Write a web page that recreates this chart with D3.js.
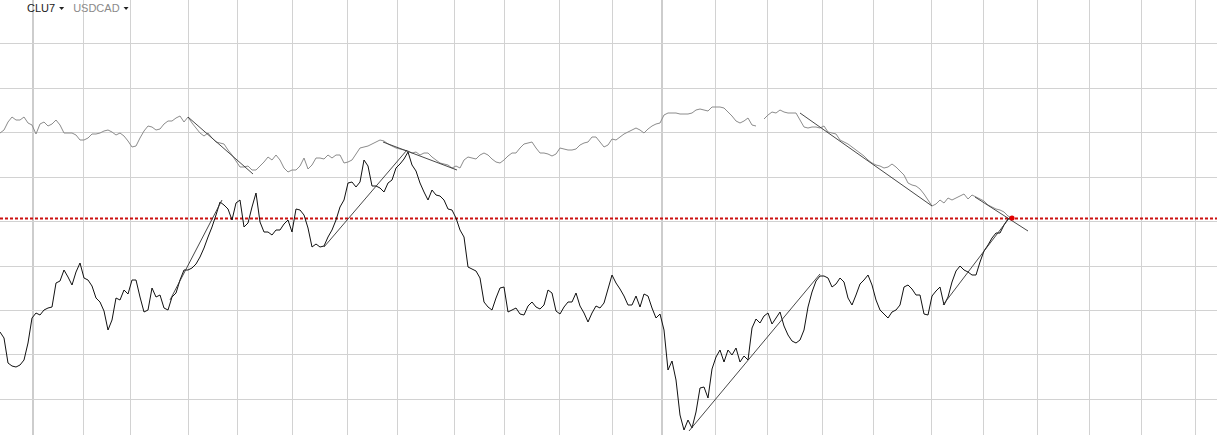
<!DOCTYPE html>
<html><head><meta charset="utf-8">
<script src="https://cdn.jsdelivr.net/npm/d3@7"></script>
<style>html,body{margin:0;padding:0;background:#fff;overflow:hidden}</style>
</head><body><svg id="chart" width="1217" height="435"></svg>
<script>
// ---- data ----
const seriesNames = ["CLU7", "USDCAD"];
// CLU7 closes, one value per bar
const clu7 = [
45.4,45.1,43.85,43.7,43.65,43.75,44,44.85,46.1,46.35,
46.25,46.5,46.6,46.65,47.85,47.95,48.5,48.15,47.75,48.4,
48.85,48.1,48,47.7,47.1,46.9,46.45,45.5,46,47.1,
47,47.5,47.3,48,48,47.15,46.4,46.5,47.6,47.15,
47.25,46.6,46.5,47.15,47.35,48,48.5,48.5,48.6,48.8,
49.15,49.6,50.15,50.65,51.25,51.9,51.75,51.55,51,51.85,
52,50.65,50.85,51.65,52.35,50.9,50.4,50.4,50.25,50.5,
50.5,50.8,51,50.4,51.55,51.5,51.25,50.6,49.65,49.8,
49.65,49.7,50.15,50.5,51,51.65,52,52.85,52.9,52.65,
52.9,54,53.7,52.7,52.7,52.6,52.4,52.85,53,53.6,
53.8,54.05,54.4,53.75,53.45,52.85,52.4,52,52.5,52.25,
52.2,52,51.55,51.5,51.1,50.5,50.15,48.65,48.55,48.45,
48.1,46.9,46.65,46.5,47.1,47.6,47.65,46.4,46.5,46.6,
46.3,46.25,46.7,46.9,46.65,46.55,46.75,47.5,47.35,46.45,
46.3,46.65,46.9,46.9,47.35,46.7,46.35,45.9,46.35,46.7,
46.6,46.85,47.55,48.25,47.85,47.55,47.2,46.75,46.75,47.2,
46.65,47.3,47.2,46.6,46.1,46.3,45.5,43.5,43.95,43,
41.25,40.5,41,40.6,41.4,42.6,42.65,42.1,43.55,44.15,
44.5,43.9,44.5,44.25,44.6,43.9,44.2,44,45.6,46.05,
45.85,46.2,46.35,45.8,46.1,46.4,45.7,45.25,44.95,44.85,
45,45.5,46.65,47.4,47.95,48.2,48.2,48.1,47.65,47.8,
48.1,47.9,47.1,46.75,47.25,47.8,48,48.25,47.75,47,
46.5,46.3,46.1,46.4,46.5,46.75,47.65,47.75,47.55,47.25,
47.25,46.3,46.25,47.2,47.45,47.65,46.75,47.15,47.9,48.45,
48.7,48.5,48.4,48.25,48.25,48.9,49.45,49.75,50.1,50.35,
50.35,50.75,51.05,51.1
];
// USDCAD closes (null = missing bar)
const usdcad = [
1.3335,1.335,1.339,1.3415,1.34,1.34,1.3415,1.3385,1.3375,1.333,
1.338,1.339,1.337,1.338,1.34,1.3375,1.3335,1.3335,1.3335,1.3325,
1.33,1.33,1.331,1.333,1.333,1.3335,1.3345,1.335,1.334,1.3325,
1.3335,1.332,1.3295,1.3265,1.327,1.331,1.3345,1.337,1.3365,1.335,
1.3355,1.338,1.3395,1.3395,1.341,1.342,1.339,1.3415,1.3385,1.336,
1.3335,1.332,1.3335,1.331,1.329,1.3285,1.328,1.325,1.3225,1.3195,
1.3165,1.3165,1.317,1.315,1.315,1.317,1.319,1.3215,1.32,1.3225,
1.32,1.316,1.314,1.315,1.315,1.317,1.321,1.3155,1.3175,1.321,
1.321,1.3205,1.3225,1.321,1.3225,1.3225,1.3185,1.319,1.32,1.323,
1.326,1.3265,1.327,1.328,1.329,1.33,1.3295,1.328,1.327,1.326,
1.3255,1.325,1.3245,1.3235,1.324,1.3225,1.3235,1.3235,1.3215,1.32,
1.3185,1.318,1.3175,1.316,1.317,1.316,1.32,1.3215,1.321,1.3205,
1.3225,1.3235,1.3225,1.3205,1.319,1.3185,1.32,1.322,1.3235,1.3235,
1.326,1.328,1.3285,1.329,1.326,1.3235,1.3235,1.323,1.322,1.323,
1.326,1.3255,1.325,1.325,1.3255,1.3275,1.3285,1.329,1.3315,1.3315,
1.329,1.3265,1.3275,1.3305,1.33,1.3315,1.333,1.334,1.335,1.336,
1.335,1.3335,1.3355,1.337,1.338,1.3385,1.3425,1.3435,1.3435,1.3435,
1.343,1.343,1.343,1.3435,1.345,1.3455,1.345,1.3445,1.3465,1.3465,
1.3465,1.346,1.344,1.342,1.3395,1.3385,1.3395,1.341,1.3375,1.337,
null,1.3405,1.3425,1.344,1.3435,1.345,1.344,1.3435,1.3435,1.3435,
1.34,1.3365,1.336,1.3365,1.3365,1.336,1.337,1.334,1.3335,1.333,
1.33,1.329,1.328,1.3265,1.325,1.3235,1.322,1.32,1.3185,1.3175,
1.317,1.316,1.3165,1.318,1.3165,1.3145,1.3125,1.3085,1.3075,1.307,
1.3055,1.303,1.30,1.297,1.298,1.30,1.2985,1.301,1.30,1.301,
1.302,1.303,1.3005,1.3025,1.3015,1.3005,1.2995,1.2975,1.2965,1.2955,
1.295,1.294,1.292,1.291
];
// month boundaries (bar positions), year boundaries drawn heavier
const monthStarts = [8.25,20.75,32.5,47,59.25,73,86.75,99.25,113.5,126,139.75,153,165.5,178.75,191.75,205.5,218.25,232.75,245.75,259.25,272.25,285.25,298.75];
const yearStarts = [8.25,165.5];
// horizontal price grid levels (CLU7 scale)
const priceGrid = [42.05,44.3,46.5,48.7,50.95,53.15,55.4,57.6,59.85];
// trend lines: [bar1, value1, bar2, value2]
const clTrends = [[42.5,47,55.5,52],[81,49.65,101.75,54.5],[172.25,40.45,205,48.3],[235.75,46.75,252.5,51.15]];
const cadTrends = [[47,1.3415,63.25,1.313],[95.75,1.329,114.25,1.315],[200,1.3435,233,1.297],[243.75,1.3015,257,1.2845]];

// ---- drawing ----
const W = 1217, H = 435;
const svg = d3.select("#chart");
const x = d3.scaleLinear().domain([0, 304.25]).range([0, W]);
const yCL = d3.scaleLinear().domain([40.25, 62]).range([H, 0]);
const yCAD = d3.scaleLinear().domain([1.1825, 1.40]).range([H, 0]);

const grid = svg.append("g");
grid.selectAll("line.v").data(monthStarts.filter(m => !yearStarts.includes(m))).join("line")
  .attr("x1", d => Math.round(x(d)) + 0.5).attr("x2", d => Math.round(x(d)) + 0.5)
  .attr("y1", 0).attr("y2", H).attr("stroke", "#d2d2d2").attr("stroke-width", 1);
grid.selectAll("line.y").data(yearStarts).join("line")
  .attr("x1", d => Math.round(x(d))).attr("x2", d => Math.round(x(d)))
  .attr("y1", 0).attr("y2", H).attr("stroke", "#cdcdcd").attr("stroke-width", 2);
grid.selectAll("line.h").data(priceGrid).join("line")
  .attr("x1", 0).attr("x2", W)
  .attr("y1", d => Math.round(yCL(d)) + 0.5).attr("y2", d => Math.round(yCL(d)) + 0.5)
  .attr("stroke", "#d2d2d2").attr("stroke-width", 1);

const lastCL = clu7[clu7.length - 1];
const lastI = clu7.length - 1;
const ry = Math.round(yCL(lastCL)) + 0.5;
svg.append("line").attr("x1", 0).attr("x2", W).attr("y1", ry).attr("y2", ry)
  .attr("stroke", "#cc1010").attr("stroke-width", 2).attr("stroke-dasharray", "3,2");

const lineCAD = d3.line().defined(d => d != null).x((d, i) => x(i)).y(d => yCAD(d));
const lineCL = d3.line().x((d, i) => x(i)).y(d => yCL(d));

svg.append("path").attr("d", lineCAD(usdcad)).attr("fill", "none")
  .attr("stroke", "#8c8c8c").attr("stroke-width", 1).attr("stroke-linejoin", "round");
svg.append("path").attr("d", lineCL(clu7)).attr("fill", "none")
  .attr("stroke", "#111").attr("stroke-width", 1).attr("stroke-linejoin", "round");

svg.append("g").selectAll("line").data(clTrends).join("line")
  .attr("x1", d => x(d[0])).attr("y1", d => yCL(d[1]))
  .attr("x2", d => x(d[2])).attr("y2", d => yCL(d[3]))
  .attr("stroke", "#333").attr("stroke-width", 0.9);
svg.append("g").selectAll("line").data(cadTrends).join("line")
  .attr("x1", d => x(d[0])).attr("y1", d => yCAD(d[1]))
  .attr("x2", d => x(d[2])).attr("y2", d => yCAD(d[3]))
  .attr("stroke", "#333").attr("stroke-width", 0.9);

svg.append("circle").attr("cx", x(lastI)).attr("cy", yCL(lastCL)).attr("r", 2.6).attr("fill", "#e00000");

// legend
const leg = svg.append("g").attr("font-family", "Liberation Sans, Arial, sans-serif").attr("font-size", 11);
const colors = ["#1a1a1a", "#8a8a8a"];
let lx = 27;
seriesNames.forEach((name, i) => {
  const t = leg.append("text").attr("x", lx).attr("y", 12).attr("fill", colors[i]).text(name);
  const w = t.node().getComputedTextLength();
  const tx = lx + w + 4;
  leg.append("path").attr("d", `M${tx},7 L${tx + 5},7 L${tx + 2.5},10 Z`).attr("fill", "#222");
  lx = tx + 14;
});
</script>
</body></html>
